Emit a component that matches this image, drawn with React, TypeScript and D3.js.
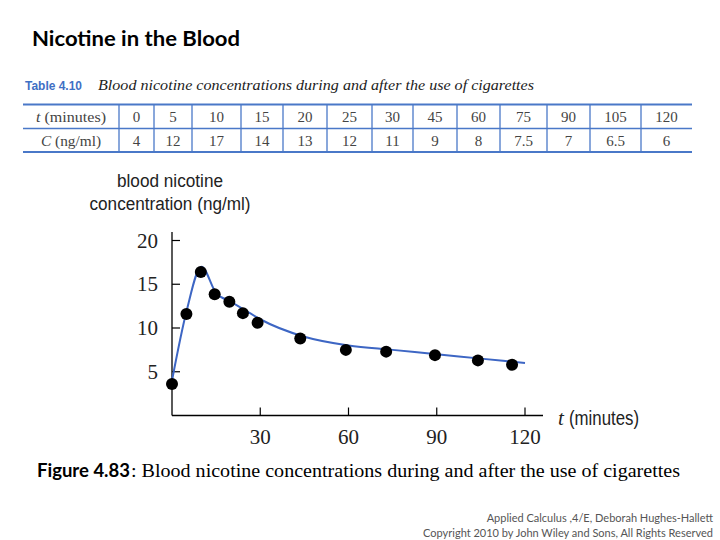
import React from "react";
import * as d3 from "d3";

// ---- data ----
const tMinutes = [0, 5, 10, 15, 20, 25, 30, 45, 60, 75, 90, 105, 120];
const concNgMl = [4, 12, 17, 14, 13, 12, 11, 9, 8, 7.5, 7, 6.5, 6];
const tableTLabels = ["0", "5", "10", "15", "20", "25", "30", "45", "60", "75", "90", "105", "120"];
const tableCLabels = ["4", "12", "17", "14", "13", "12", "11", "9", "8", "7.5", "7", "6.5", "6"];
// dots as drawn in the figure
const dotT = [0, 4.9, 9.8, 14.5, 19.5, 24.1, 29.1, 43.6, 59.1, 72.8, 89.4, 104, 115.6];
const dotC = [3.6, 11.6, 16.4, 13.85, 13.0, 11.7, 10.6, 8.8, 7.5, 7.3, 6.9, 6.3, 5.8];
const xTicks = [30, 60, 90, 120];
const yTicks = [5, 10, 15, 20];

// ---- layout ----
const W = 720, H = 540;
const colEdges = [23, 119, 154, 192, 241, 283, 327, 372, 413, 457, 500, 547, 590, 641, 692];
const tableTop = 104.5, tableMid = 128.5, tableBot = 152;
const blue = "#4a78c8";

export default function App() {
  const x = d3.scaleLinear().domain([0, 120]).range([172, 525]);
  const y = d3.scaleLinear().domain([0, 20]).range([415.5, 240.5]);
  const line = d3
    .line<number>()
    .x((_, i) => x(tMinutes[i]))
    .y((d) => y(d))
    .curve(d3.curveMonotoneX);
  const serif = "'Liberation Serif', 'DejaVu Serif', serif";
  const sans = "'Liberation Sans', Arial, sans-serif";
  const calibri = "Lato, 'Open Sans', sans-serif";

  return (
    <svg
      width={W}
      height={H}
      style={{ position: "absolute", left: 0, top: 0, background: "#fff" }}
    >
      {/* Title */}
      <text x={32} y={46} fontFamily={calibri} fontWeight={700} fontSize={21} fill="#000" textLength={208} lengthAdjust="spacingAndGlyphs">
        Nicotine in the Blood
      </text>

      {/* Table caption */}
      <text x={25} y={90} fontFamily={sans} fontWeight={700} fontSize={12.5} fill="#3f6fc4" textLength={57} lengthAdjust="spacingAndGlyphs">
        Table 4.10
      </text>
      <text x={98} y={90} fontFamily={serif} fontStyle="italic" fontSize={14.5} fill="#222" textLength={436} lengthAdjust="spacingAndGlyphs">
        Blood nicotine concentrations during and after the use of cigarettes
      </text>

      {/* Table */}
      <g>
        <line x1={colEdges[0]} x2={colEdges[colEdges.length - 1]} y1={tableTop} y2={tableTop} stroke={blue} strokeWidth={2} />
        <line x1={colEdges[0]} x2={colEdges[colEdges.length - 1]} y1={tableMid} y2={tableMid} stroke={blue} strokeWidth={1.3} />
        <line x1={colEdges[0]} x2={colEdges[colEdges.length - 1]} y1={tableBot} y2={tableBot} stroke={blue} strokeWidth={2} />
        {colEdges.slice(1, -1).map((cx, i) => (
          <line key={i} x1={cx} x2={cx} y1={tableTop} y2={tableBot} stroke={blue} strokeWidth={1.3} />
        ))}
        <text x={(colEdges[0] + colEdges[1]) / 2} y={121.5} textAnchor="middle" fontFamily={serif} fontSize={15} fill="#444" textLength={70} lengthAdjust="spacingAndGlyphs">
          <tspan fontStyle="italic">t</tspan> (minutes)
        </text>
        <text x={(colEdges[0] + colEdges[1]) / 2} y={145.5} textAnchor="middle" fontFamily={serif} fontSize={15} fill="#444" textLength={60} lengthAdjust="spacingAndGlyphs">
          <tspan fontStyle="italic">C</tspan> (ng/ml)
        </text>
        {tableTLabels.map((s, i) => (
          <text key={"t" + i} x={(colEdges[i + 1] + colEdges[i + 2]) / 2} y={121.5} textAnchor="middle" fontFamily={serif} fontSize={15} fill="#444">
            {s}
          </text>
        ))}
        {tableCLabels.map((s, i) => (
          <text key={"c" + i} x={(colEdges[i + 1] + colEdges[i + 2]) / 2} y={145.5} textAnchor="middle" fontFamily={serif} fontSize={15} fill="#444">
            {s}
          </text>
        ))}
      </g>

      {/* Y axis label */}
      <text x={170} y={187} textAnchor="middle" fontFamily={sans} fontSize={18} fill="#222" textLength={106} lengthAdjust="spacingAndGlyphs">
        blood nicotine
      </text>
      <text x={170} y={210} textAnchor="middle" fontFamily={sans} fontSize={18} fill="#222" textLength={161} lengthAdjust="spacingAndGlyphs">
        concentration (ng/ml)
      </text>

      {/* Axes */}
      <line x1={x(0)} x2={x(0)} y1={232} y2={y(0)} stroke="#000" strokeWidth={1.3} />
      <line x1={x(0)} x2={543} y1={y(0)} y2={y(0)} stroke="#000" strokeWidth={1.3} />
      {yTicks.map((t) => (
        <g key={"yt" + t}>
          <line x1={x(0)} x2={x(0) + 8} y1={y(t)} y2={y(t)} stroke="#000" strokeWidth={1.2} />
          <text x={158} y={y(t) + 7} textAnchor="end" fontFamily={serif} fontSize={21} fill="#222">
            {t}
          </text>
        </g>
      ))}
      {xTicks.map((t) => (
        <g key={"xt" + t}>
          <line x1={x(t)} x2={x(t)} y1={y(0)} y2={y(0) - 8} stroke="#000" strokeWidth={1.2} />
          <text x={x(t)} y={444} textAnchor="middle" fontFamily={serif} fontSize={21} fill="#222">
            {t}
          </text>
        </g>
      ))}
      <text x={558} y={425} fontFamily={serif} fontStyle="italic" fontSize={21} fill="#222">
        t
      </text>
      <text x={569} y={425} fontFamily={sans} fontSize={20} fill="#222" textLength={70} lengthAdjust="spacingAndGlyphs">
        (minutes)
      </text>

      {/* Curve */}
      <path d={line(concNgMl) || ""} fill="none" stroke="#3d66c4" strokeWidth={2} />
      {/* Dots */}
      {dotT.map((t, i) => (
        <circle key={"d" + i} cx={x(t)} cy={y(dotC[i])} r={6} fill="#000" />
      ))}

      {/* Caption */}
      <text x={37} y={477} fontFamily={calibri} fontWeight={700} fontSize={19} fill="#000" textLength={93} lengthAdjust="spacingAndGlyphs">
        Figure 4.83
      </text>
      <text x={131} y={477} fontFamily={serif} fontSize={19} fill="#000" textLength={549} lengthAdjust="spacingAndGlyphs">
        :  Blood nicotine concentrations during and after the use of cigarettes
      </text>

      {/* Footer */}
      <text x={713} y={522} textAnchor="end" fontFamily={calibri} fontSize={11} fill="#555">
        Applied Calculus ,4/E, Deborah Hughes-Hallett
      </text>
      <text x={713} y={537} textAnchor="end" fontFamily={calibri} fontSize={11} fill="#555">
        Copyright 2010 by John Wiley and Sons, All Rights Reserved
      </text>
    </svg>
  );
}
